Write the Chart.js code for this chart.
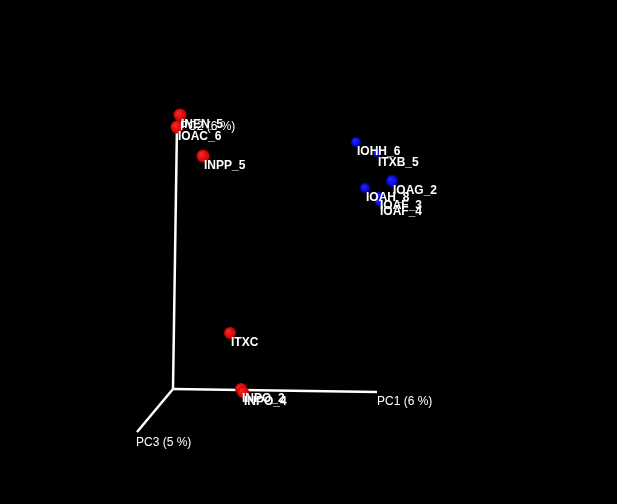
<!DOCTYPE html>
<html lang="en">
<head>
    <meta charset="UTF-8">
    <title>PCoA 3D</title>
    <script src="https://cdn.jsdelivr.net/npm/chart.js"></script>
    <style>
        body { margin: 0; background: #000; }
        canvas { display: block; }
    </style>
</head>
<body>
    <canvas id="pcoaChart" width="617" height="504"></canvas>
    <script>
        // projected coordinates (origin of the axes = 0,0)
        const redIds = ['INEN_5', 'IOAC_6', 'INPP_5', 'ITXC', 'INPO_2', 'INPO_4'];
        const redX = [7, 4, 30, 57, 68, 70];
        const redY = [274, 262, 233, 56, 0, -3];
        const redR = [6.5, 6.5, 6.5, 6, 6, 6];

        const blueIds = ['IOHH_6', 'ITXB_5', 'IOAG_2', 'IOAH_8', 'IOAF_3', 'IOAF_4'];
        const blueX = [183, 204, 219, 192, 206, 206];
        const blueY = [247, 236, 208, 201, 193, 187];
        const blueR = [5, 4, 6, 5, 4, 4];

        const axisNames = ['PC1 (6 %)', 'PC2 (6 %)', 'PC3 (5 %)'];
        const axisEndX = [204, 4, -36];
        const axisEndY = [-3, 264, -43];

        function pts(xs, ys) {
            return xs.map((x, i) => ({ x: x, y: ys[i] }));
        }

        // simple sphere shading
        function sphere(light, dark, radii) {
            return function(context) {
                const chart = context.chart;
                const p = context.raw;
                if (!p || !chart.chartArea) return light;
                const px = chart.scales.x.getPixelForValue(p.x);
                const py = chart.scales.y.getPixelForValue(p.y);
                const r = radii[context.dataIndex];
                const g = chart.ctx.createRadialGradient(px - r * 0.35, py - r * 0.35, 0, px, py, r);
                g.addColorStop(0, light);
                g.addColorStop(1, dark);
                return g;
            };
        }

        const axisSets = axisNames.map((name, i) => ({
            type: 'line',
            label: name,
            data: [{ x: 0, y: 0 }, { x: axisEndX[i], y: axisEndY[i] }],
            borderColor: '#ffffff',
            borderWidth: 2.5,
            pointRadius: 0,
            order: 3
        }));

        // text labels next to the spheres and at the axis ends
        const labelPlugin = {
            id: 'labels',
            beforeDraw(chart) {
                const c = chart.ctx;
                c.save();
                c.fillStyle = '#000';
                c.fillRect(0, 0, chart.width, chart.height);
                c.restore();
            },
            afterDatasetsDraw(chart) {
                const c = chart.ctx;
                const sx = chart.scales.x, sy = chart.scales.y;
                c.save();
                c.fillStyle = '#ffffff';
                c.textBaseline = 'middle';
                c.font = 'bold 12px "Liberation Sans", Arial, sans-serif';
                const put = (ids, xs, ys) => ids.forEach((t, i) => {
                    c.fillText(t, sx.getPixelForValue(xs[i]) + 1, sy.getPixelForValue(ys[i]) + 10);
                });
                put(redIds, redX, redY);
                put(blueIds, blueX, blueY);
                c.font = '12px "Liberation Sans", Arial, sans-serif';
                const off = [[0, 10], [3, 2], [-1, 11]];
                axisNames.forEach((t, i) => {
                    c.fillText(t, sx.getPixelForValue(axisEndX[i]) + off[i][0],
                        sy.getPixelForValue(axisEndY[i]) + off[i][1]);
                });
                c.restore();
            }
        };

        const ctx = document.getElementById('pcoaChart').getContext('2d');
        const chart = new Chart(ctx, {
            type: 'scatter',
            data: {
                datasets: [
                    ...axisSets,
                    {
                        label: 'red',
                        data: pts(redX, redY),
                        pointRadius: redR,
                        backgroundColor: sphere('#ff2a2a', '#c00000', redR),
                        borderWidth: 0,
                        order: 1
                    },
                    {
                        label: 'blue',
                        data: pts(blueX, blueY),
                        pointRadius: blueR,
                        backgroundColor: sphere('#2a2aff', '#0000c0', blueR),
                        borderWidth: 0,
                        order: 2
                    }
                ]
            },
            options: {
                responsive: false,
                animation: false,
                layout: { padding: 0, autoPadding: false },
                scales: {
                    x: { display: false, min: -173, max: 444 },
                    y: { display: false, min: -115, max: 389 }
                },
                plugins: {
                    legend: { display: false },
                    tooltip: { enabled: false }
                }
            },
            plugins: [labelPlugin]
        });
    </script>
</body>
</html>
